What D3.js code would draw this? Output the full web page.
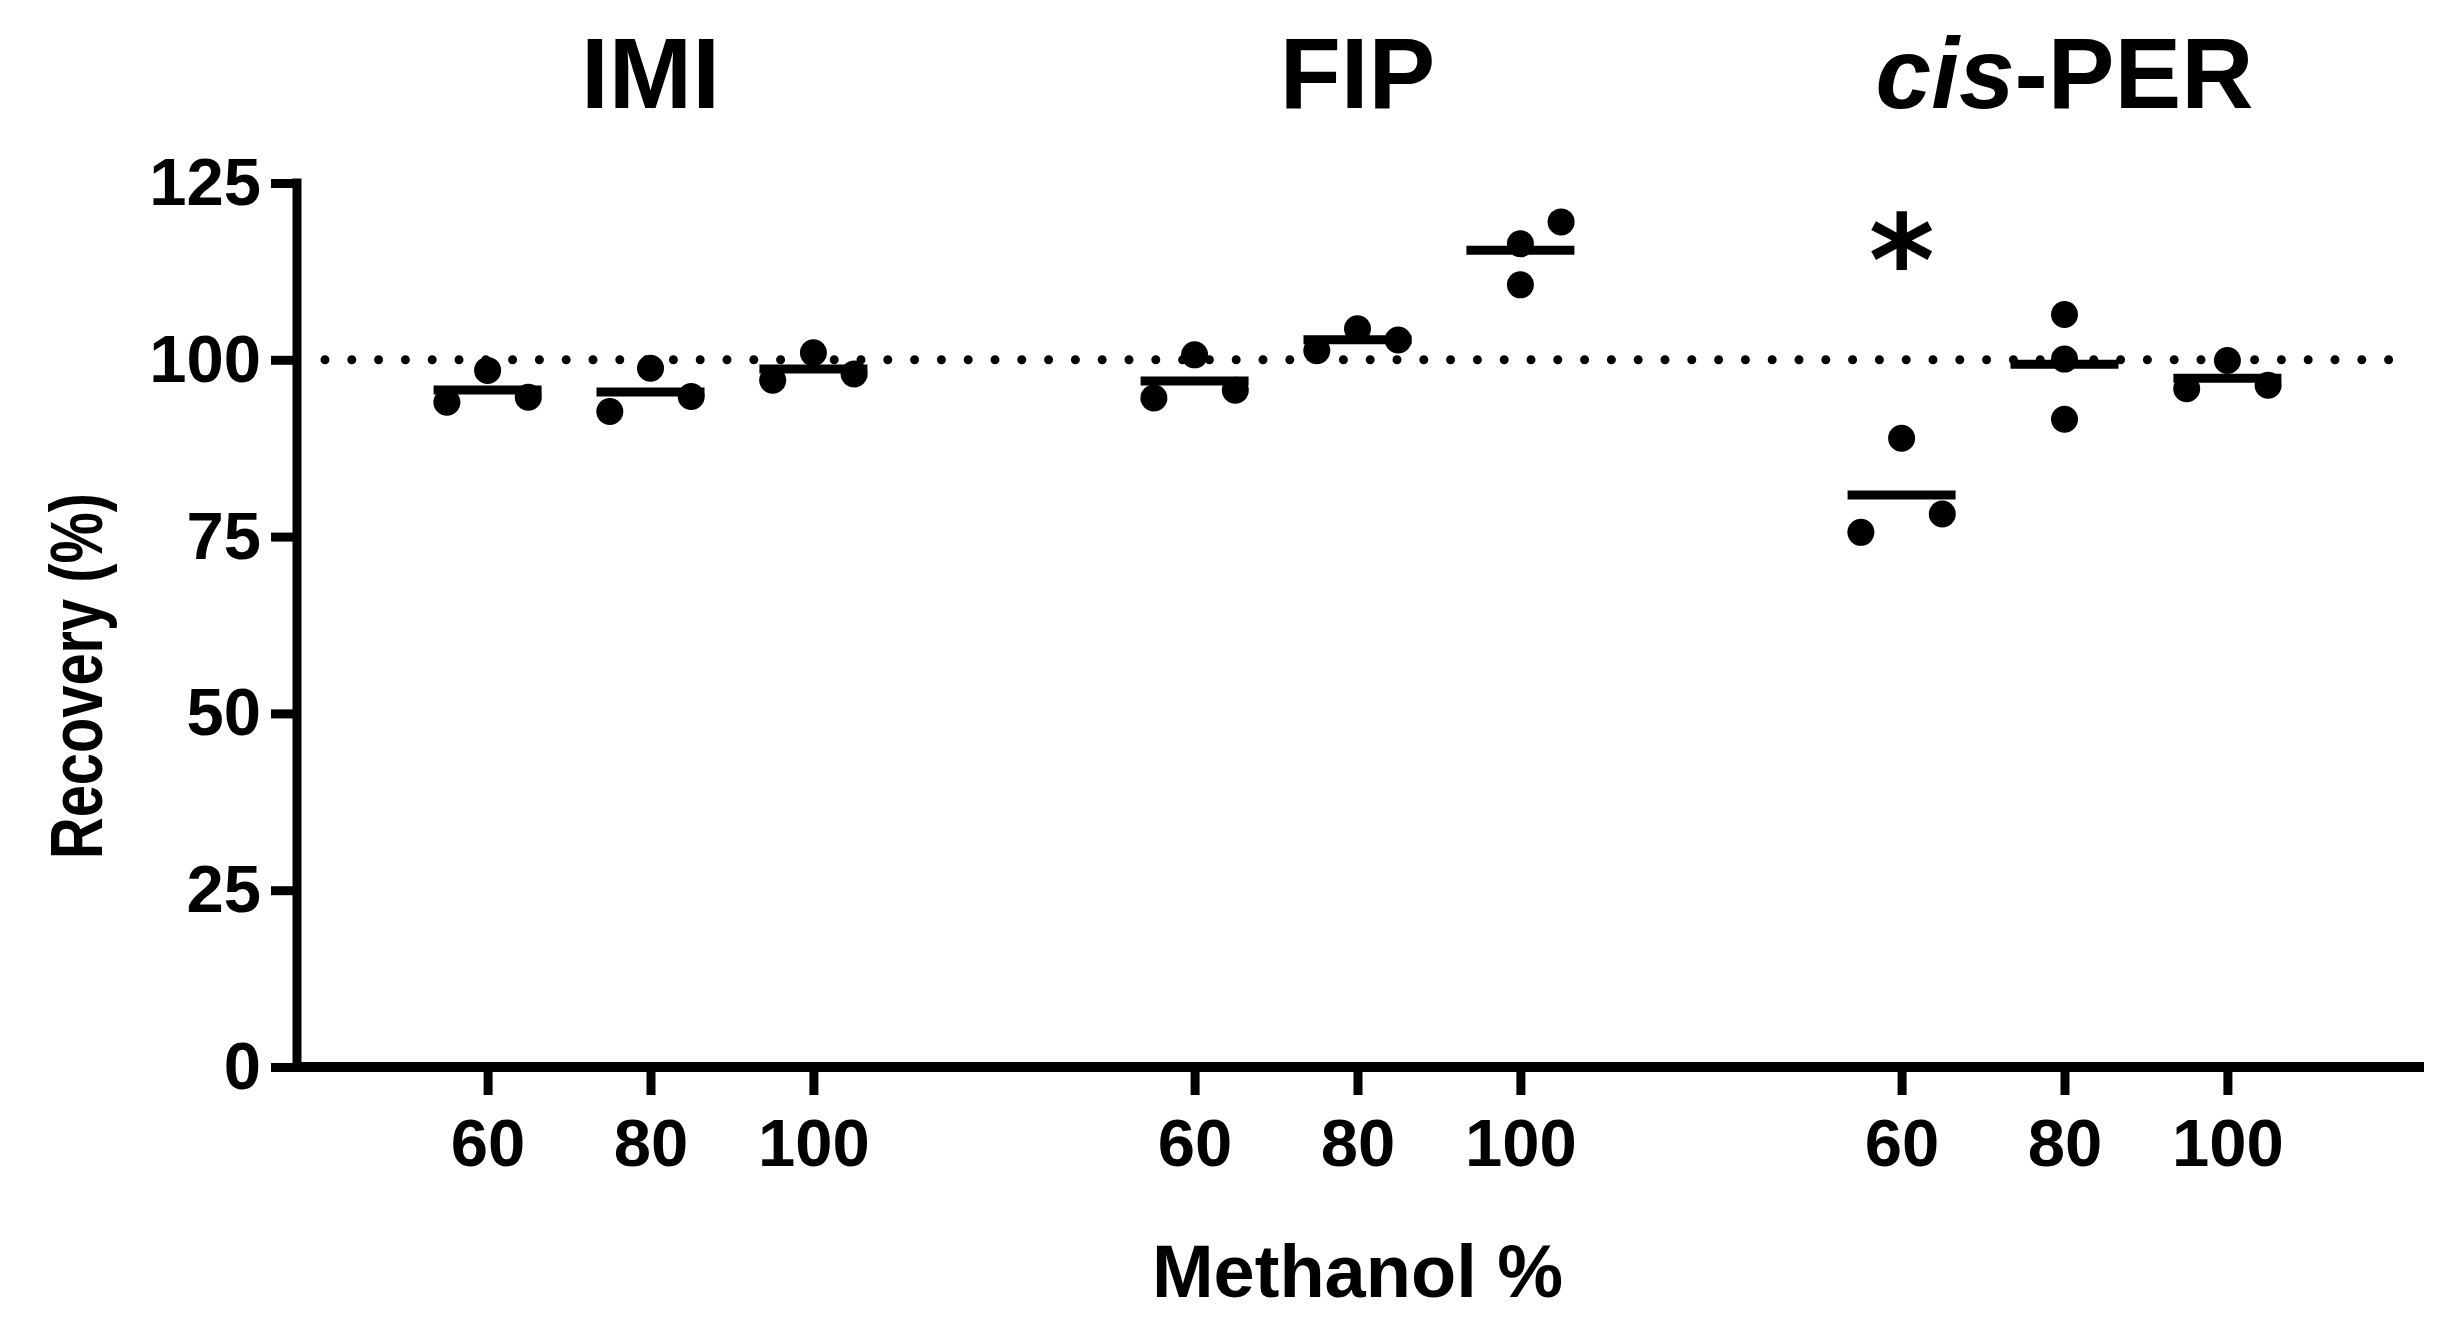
<!DOCTYPE html>
<html>
<head>
<meta charset="UTF-8">
<title>Recovery vs methanol</title>
<script src="https://cdn.jsdelivr.net/npm/d3@7"></script>
<style>
    body, html { margin: 0; padding: 0; background: #fff; }
    svg text { font-family: "Liberation Sans", Arial, sans-serif; font-weight: bold; fill: #000; }
</style>
</head>
<body>
<svg id="chart" width="2439" height="1342"></svg>
<script>
    var compounds = ["IMI", "FIP", "cis-PER"];
    var methanol = [60, 80, 100];
    var yTicks = [0, 25, 50, 75, 100, 125];

    // recovery (%) of three replicates, one row per methanol level
    var imiRecovery = [[94.0, 98.5, 94.7], [92.7, 98.8, 94.8], [97.1, 101.0, 98.0]];
    var fipRecovery = [[94.6, 100.7, 95.7], [101.3, 104.4, 102.8], [110.6, 116.4, 119.5]];
    var perRecovery = [[75.6, 88.9, 78.2], [106.4, 100.1, 91.6], [95.9, 99.9, 96.4]];

    // which side each replicate is pushed to in the scatter (-1 left, 0 middle, 1 right)
    var imiSpread = [[-1, 0, 1], [-1, 0, 1], [-1, 0, 1]];
    var fipSpread = [[-1, 0, 1], [-1, 0, 1], [0, 0, 1]];
    var perSpread = [[-1, 0, 1], [0, 0, 0], [-1, 0, 1]];

    var significance = [{ compound: "cis-PER", level: 60, label: "*", value: 118.5 }];
    var reference = 100;

    var recovery = { "IMI": imiRecovery, "FIP": fipRecovery, "cis-PER": perRecovery };
    var spread = { "IMI": imiSpread, "FIP": fipSpread, "cis-PER": perSpread };

    var svg = d3.select("#chart");

    var x0 = 297, x1 = 2418, yTop = 183, yBottom = 1067;

    var groupScale = d3.scaleBand().domain(compounds).range([x0, x1]).padding(0);
    var bw = groupScale.bandwidth();
    var levelScale = d3.scalePoint().domain(methanol).range([0, bw]).padding(1.17);
    var jitter = d3.scaleLinear().domain([-1, 1]).range([-40.7, 40.7]);
    var y = d3.scaleLinear().domain([0, 125]).range([yBottom, yTop]);

    function cx(c, l) { return groupScale(c) + levelScale(l); }

    var points = [], means = [];
    compounds.forEach(function (c) {
        methanol.forEach(function (l, i) {
            recovery[c][i].forEach(function (v, j) {
                points.push({ compound: c, level: l, value: v, side: spread[c][i][j] });
            });
            means.push({ compound: c, level: l, value: d3.mean(recovery[c][i]) });
        });
    });

    // y axis
    var yAxis = svg.append("g")
        .attr("transform", "translate(" + x0 + ",0)")
        .call(d3.axisLeft(y).tickValues(yTicks).tickSize(26).tickSizeOuter(0).tickPadding(10));
    yAxis.select(".domain").remove();
    yAxis.selectAll(".tick line").attr("stroke-width", 9);
    yAxis.selectAll(".tick text").attr("font-size", 67);
    yAxis.append("line")
        .attr("x1", 0).attr("x2", 0)
        .attr("y1", y(0) + 5).attr("y2", y(125) - 4.5)
        .attr("stroke", "#000").attr("stroke-width", 9);

    // x axis, one per compound, on one shared base line
    compounds.forEach(function (c) {
        var g = svg.append("g")
            .attr("transform", "translate(" + groupScale(c) + "," + yBottom + ")")
            .call(d3.axisBottom(levelScale).tickSize(28).tickSizeOuter(0).tickPadding(23));
        g.select(".domain").remove();
        g.selectAll(".tick line").attr("stroke-width", 9);
        g.selectAll(".tick text").attr("font-size", 67);
    });
    svg.append("line")
        .attr("x1", x0).attr("x2", x1 + 6)
        .attr("y1", yBottom).attr("y2", yBottom)
        .attr("stroke", "#000").attr("stroke-width", 10);
    svg.selectAll(".tick line").attr("stroke", "#000");

    // dotted 100% line
    svg.append("line")
        .attr("x1", x0 + 28).attr("x2", x1 - 8)
        .attr("y1", y(reference)).attr("y2", y(reference))
        .attr("stroke", "#000").attr("stroke-width", 9)
        .attr("stroke-linecap", "round").attr("stroke-dasharray", "0,26.8");

    svg.selectAll(".dot")
        .data(points)
        .enter()
        .append("circle")
        .attr("class", "dot")
        .attr("cx", function (d) { return cx(d.compound, d.level) + jitter(d.side); })
        .attr("cy", function (d) { return y(d.value); })
        .attr("r", 13.5)
        .attr("fill", "#000");

    svg.selectAll(".mean")
        .data(means)
        .enter()
        .append("line")
        .attr("class", "mean")
        .attr("x1", function (d) { return cx(d.compound, d.level) - 54; })
        .attr("x2", function (d) { return cx(d.compound, d.level) + 54; })
        .attr("y1", function (d) { return y(d.value); })
        .attr("y2", function (d) { return y(d.value); })
        .attr("stroke", "#000")
        .attr("stroke-width", 9);

    svg.selectAll(".sig")
        .data(significance)
        .enter()
        .append("text")
        .attr("class", "sig")
        .attr("x", function (d) { return cx(d.compound, d.level); })
        .attr("y", function (d) { return y(d.value); })
        .attr("dy", "0.6em")
        .attr("text-anchor", "middle")
        .attr("font-size", 126)
        .style("font-family", "'DejaVu Sans', sans-serif")
        .text(function (d) { return d.label; });

    // compound titles
    var titles = svg.selectAll(".title")
        .data(compounds)
        .enter()
        .append("text")
        .attr("class", "title")
        .attr("x", function (d) { return groupScale(d) + bw / 2; })
        .attr("y", 108)
        .attr("text-anchor", "middle")
        .attr("font-size", 100);
    titles.each(function (d) {
        var t = d3.select(this);
        if (d.indexOf("cis-") === 0) {
            t.append("tspan").attr("font-style", "italic").text("cis");
            t.append("tspan").text(d.slice(3));
        } else {
            t.text(d);
        }
    });

    svg.append("text")
        .attr("x", (x0 + x1) / 2)
        .attr("y", 1297)
        .attr("text-anchor", "middle")
        .attr("font-size", 74)
        .text("Methanol %");

    svg.append("text")
        .attr("transform", "translate(102,676) rotate(-90)")
        .attr("text-anchor", "middle")
        .attr("font-size", 75)
        .attr("textLength", 366)
        .attr("lengthAdjust", "spacingAndGlyphs")
        .text("Recovery (%)");
</script>
</body>
</html>
